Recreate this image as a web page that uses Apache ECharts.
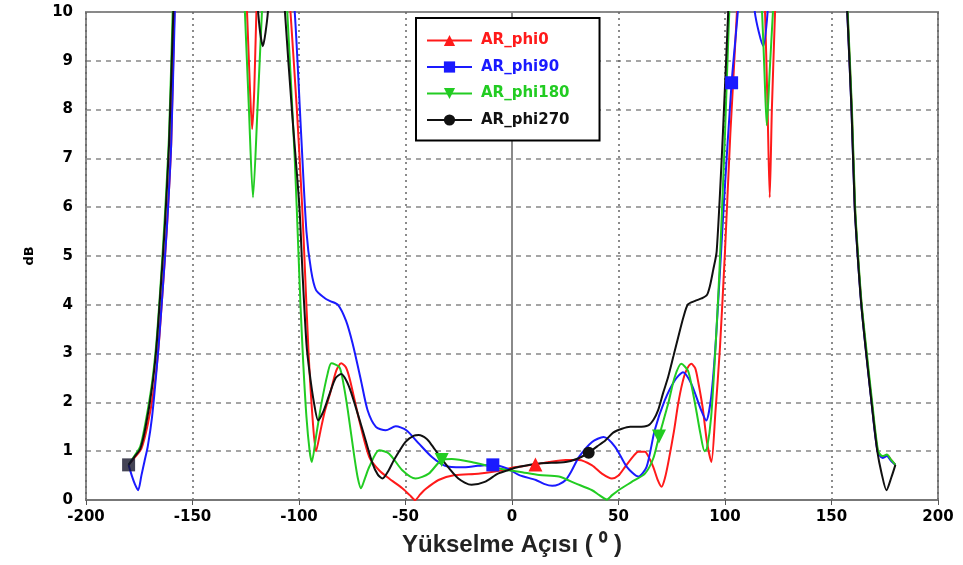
<!DOCTYPE html>
<html>
<head>
<meta charset="utf-8">
<title>AR</title>
<script src="https://cdn.jsdelivr.net/npm/echarts/dist/echarts.min.js"></script>
<style>
  html, body { margin: 0; padding: 0; background: #fff; }
  #chart { width: 963px; height: 565px; }
</style>
</head>
<body>
<div id="chart"></div>
<script>
// angle (deg), axial ratio (dB) - values above 10 run off the top of the plot
const arPhi0 = [
  [-180,0.72],[-177,0.88],[-174,1.05],[-171,1.55],[-168,2.3],[-166,3.1],[-164,4.3],[-162,5.6],[-160,7.3],[-158.5,10],[-156,13],[-145,16],[-132,15],
  [-126,11.5],[-124.4,10],[-123,8.4],[-122,7.6],[-121,8.4],[-120,10],[-118,12],[-112,14],[-107,12],[-104,10],[-101,8],[-98.5,6],[-97.2,4.7],
  [-95.5,3],[-93.5,1.6],[-92,1.0],[-90,1.4],[-88,1.8],[-85.6,2.15],[-82.5,2.65],[-80.2,2.8],[-78,2.72],[-76,2.45],[-71.7,1.63],[-67,0.88],
  [-62.4,0.61],[-57.7,0.44],[-51.5,0.24],[-48,0.1],[-45.5,0],[-43,0.12],[-40.7,0.22],[-34.5,0.41],[-26.8,0.51],[-15.9,0.54],[-6,0.6],[0,0.66],
  [5,0.69],[11,0.73],[17.4,0.78],[25.2,0.82],[31.4,0.82],[37.6,0.71],[42.2,0.54],[46.9,0.44],[50,0.5],[53.1,0.68],[57,0.9],[59.3,0.99],
  [62.4,0.99],[64.5,0.85],[66.3,0.68],[68.5,0.4],[70.2,0.27],[71.8,0.45],[73.3,0.75],[76,1.4],[78,1.97],[80,2.4],[81.8,2.65],[84.2,2.79],
  [86,2.7],[87.3,2.45],[89.5,1.9],[91.5,1.2],[93.6,0.78],[95.5,1.8],[97.6,3.1],[100,5.1],[102.5,7.5],[105.6,10],[108,12.5],[114,14],
  [117.5,11.5],[118.8,10],[120,8],[121,6.2],[122,8],[123.5,10],[125,12],[135,15],[150,15],[155.5,12],[157.5,10],[159.5,8],[161,6],
  [162.4,5],[164.1,4],[166.4,3],[168.9,2],[171.7,1],[174,0.88],[176,0.92],[178,0.82],[180,0.72]
];
const arPhi90 = [
  [-180,0.72],[-178.5,0.5],[-177,0.32],[-175.5,0.2],[-174,0.5],[-172.5,0.8],[-171,1.1],[-169,1.7],[-167,2.6],[-165.5,3.4],[-164,4.3],[-162,5.6],
  [-160,7.3],[-158.3,10],[-156,13],[-145,16],[-130,15],[-118,11.5],[-112,13],[-106,12],[-102,10],[-99,7.5],[-96.5,5.5],[-94.3,4.7],[-92,4.3],
  [-88,4.14],[-85.6,4.08],[-81.7,4.0],[-77.9,3.67],[-74.8,3.2],[-70.9,2.45],[-67.8,1.84],[-63.9,1.5],[-59.3,1.43],[-54.6,1.51],[-49.6,1.43],
  [-43.8,1.16],[-37.6,0.88],[-31.4,0.7],[-23.7,0.67],[-16,0.7],[-9,0.72],[-2,0.64],[3.4,0.51],[11.2,0.41],[15,0.33],[18.9,0.29],[22,0.32],
  [25.2,0.41],[28,0.6],[31.4,0.88],[37.6,1.19],[43,1.29],[48.4,1.09],[53.9,0.68],[59.3,0.48],[63.2,0.68],[67,1.43],[71.7,2.04],[76.4,2.45],
  [80.3,2.62],[84.2,2.38],[88.8,1.84],[91.2,1.63],[93.5,2.11],[95.8,3.33],[99.5,6.1],[103.1,8.55],[106,10],[109,12],[112,11.5],[114,10],
  [118,9.3],[120,10],[122,11.5],[135,15],[150,15],[155.5,12],[157.4,10],[159.4,8],[160.9,6],[162.3,5],[164,4],[166.3,3],[168.8,2],
  [171.6,1],[174,0.86],[176,0.9],[178,0.8],[180,0.72]
];
const arPhi180 = [
  [-180,0.72],[-177,0.92],[-174.5,1.1],[-172,1.6],[-169,2.4],[-167,3.2],[-165,4.4],[-163,5.8],[-161,7.5],[-159.3,10],[-157,13],[-145,16],[-133,14],
  [-127,11.5],[-125.4,10],[-123.5,8],[-121.6,6.2],[-119.5,8],[-117.4,10],[-115,12],[-110,13],[-107,11],[-105.5,10],[-102,7],[-100.2,5],[-99.3,4],
  [-98,2.8],[-96.5,1.7],[-95,1.0],[-94,0.78],[-92,1.3],[-89.5,1.97],[-86.5,2.6],[-84.8,2.8],[-81,2.72],[-79,2.35],[-77.1,1.84],[-74,0.88],
  [-72.4,0.45],[-70.9,0.24],[-69,0.45],[-67,0.68],[-62.4,1.02],[-57.7,0.95],[-51.5,0.61],[-45.3,0.44],[-39.1,0.54],[-33,0.82],[-28.3,0.84],
  [-19,0.78],[-9.7,0.68],[-2,0.61],[3.4,0.58],[12.7,0.51],[22,0.48],[29.8,0.34],[37.6,0.2],[41,0.1],[44.6,0.01],[47,0.1],[50,0.2],[56.2,0.37],
  [62.4,0.54],[66.3,0.85],[69,1.3],[73.3,1.97],[76.4,2.52],[79.5,2.79],[82.6,2.65],[84.5,2.3],[86.5,1.84],[88.5,1.35],[90.4,1.0],[91.5,1.05],
  [93.5,1.7],[95.8,3.33],[97.4,4.7],[100,7.5],[102,10],[105,12.5],[112,13],[116,11],[117.4,10],[118.5,8.8],[119.6,7.68],[121,8.8],[122.5,10],
  [125,12],[135,15],[150,15],[155.5,12],[157.6,10],[159.6,8],[161.1,6],[162.5,5],[164.2,4],[166.6,3],[169.1,2],[171.9,1],[174,0.9],[176,0.93],
  [178,0.82],[180,0.72]
];
const arPhi270 = [
  [-180,0.72],[-177,0.9],[-174.5,1.05],[-172,1.5],[-169,2.3],[-167,3.1],[-165,4.3],[-163,5.6],[-161,7.3],[-159,10],[-156.5,13],[-145,16],[-130,14],
  [-122,12],[-119.2,10],[-117,9.3],[-114.6,10],[-112,12],[-109,12],[-106.6,10],[-103,7.8],[-99.8,6],[-98.4,4.7],[-96.5,3.2],[-95,2.6],[-93,2],
  [-91,1.63],[-88.5,1.82],[-85.6,2.18],[-82.8,2.5],[-80.2,2.58],[-77.8,2.45],[-75.5,2.2],[-70.1,1.43],[-65.5,0.75],[-63,0.52],[-60.8,0.44],
  [-58,0.6],[-55.4,0.82],[-50,1.19],[-46,1.32],[-43.8,1.33],[-40,1.25],[-37.6,1.12],[-31.4,0.75],[-25.2,0.44],[-19,0.31],[-12.8,0.37],
  [-6.6,0.54],[-2,0.61],[3.4,0.68],[12.7,0.75],[25.2,0.78],[31,0.85],[36,0.97],[40,1.1],[43.8,1.22],[47.5,1.38],[51.6,1.46],[55.5,1.5],
  [59.3,1.5],[64,1.53],[66.5,1.65],[68.6,1.84],[71,2.2],[73.3,2.52],[75.8,2.95],[78,3.33],[80.5,3.75],[82.6,4.01],[86,4.08],[89,4.13],
  [91.5,4.2],[93,4.4],[94.4,4.7],[96.1,5.1],[99,7.5],[101.5,10],[104,12.5],[115,14],[135,15],[150,15],[155.3,12],[157.4,10],[159.4,8],
  [160.9,6],[162.3,5],[164,4],[166.3,3],[168.8,2],[171.5,1],[173.5,0.55],[175.8,0.2],[178,0.45],[180,0.72]
];

// angles where each curve carries a marker
const marksPhi0 = [11];
const marksPhi90 = [-9, 103.1];
const marksPhi180 = [-33, 69];
const marksPhi270 = [36];
const darkSquare = [[-180, 0.72]];

const seriesNames = ['AR_phi0', 'AR_phi90', 'AR_phi180', 'AR_phi270'];
const seriesColors = ['#ff1a1a', '#1a1aff', '#22cc22', '#111111'];

const downTriangle = 'path://M0,0 L10,0 L5,9 Z';

function makeLine(name, data, color, symbol, size, marks) {
  return {
    name: name,
    type: 'line',
    data: data,
    smooth: 0.25,
    clip: true,
    showSymbol: true,
    showAllSymbol: true,
    symbol: symbol,
    symbolSize: function (val) { return marks.indexOf(val[0]) > -1 ? size : 0; },
    lineStyle: { color: color, width: 2 },
    itemStyle: { color: color },
    emphasis: { disabled: true }
  };
}

const option = {
  backgroundColor: '#ffffff',
  animation: false,
  grid: {
    left: 86, right: 25, top: 12, bottom: 65,
    show: true, borderColor: '#8a8a8a', borderWidth: 2
  },
  legend: {
    orient: 'vertical',
    left: 416, top: 18,
    padding: [15, 30, 13, 10],
    itemWidth: 45, itemHeight: 14, itemGap: 11.5,
    backgroundColor: '#ffffff',
    borderColor: '#000', borderWidth: 2,
    data: seriesNames.map(function (n, i) {
      return { name: n, textStyle: { color: seriesColors[i] } };
    }),
    textStyle: { fontFamily: 'DejaVu Sans', fontWeight: 'bold', fontSize: 15, padding: [0, 0, 0, 4] }
  },
  xAxis: {
    type: 'value',
    min: -200, max: 200, interval: 50,
    name: 'Yükselme Açısı ( ⁰ )',
    nameLocation: 'middle',
    nameGap: 33,
    nameTextStyle: { fontFamily: 'Liberation Sans', fontSize: 24, fontWeight: 'bold', color: '#222' },
    axisLine: { show: true, lineStyle: { color: '#777', width: 2 } },
    axisTick: { show: true, length: 5, lineStyle: { color: '#555' } },
    axisLabel: { fontFamily: 'DejaVu Sans', fontWeight: 'bold', fontSize: 15, color: '#000', margin: 10 },
    splitLine: { show: true, lineStyle: { color: '#666', type: [2, 4], width: 1.5 } }
  },
  yAxis: {
    type: 'value',
    min: 0, max: 10, interval: 1,
    name: 'dB',
    nameLocation: 'middle',
    nameRotate: 90,
    nameGap: 50,
    nameTextStyle: { fontFamily: 'DejaVu Sans', fontSize: 13, fontWeight: 'bold', color: '#000' },
    axisLine: { show: true, lineStyle: { color: '#8a8a8a', width: 2 } },
    axisTick: { show: false },
    axisLabel: { fontFamily: 'DejaVu Sans', fontWeight: 'bold', fontSize: 15, color: '#000', margin: 13 },
    splitLine: { show: true, lineStyle: { color: '#888', type: [5, 5], width: 1.5 } }
  },
  series: [
    makeLine(seriesNames[0], arPhi0, seriesColors[0], 'triangle', 14, marksPhi0),
    makeLine(seriesNames[1], arPhi90, seriesColors[1], 'rect', 13, marksPhi90),
    makeLine(seriesNames[2], arPhi180, seriesColors[2], downTriangle, 14, marksPhi180),
    makeLine(seriesNames[3], arPhi270, seriesColors[3], 'circle', 12, marksPhi270),
    {
      // dark square where all curves start at -180
      type: 'scatter',
      data: darkSquare,
      symbol: 'rect',
      symbolSize: 13,
      itemStyle: { color: '#15152a' },
      z: 5
    }
  ]
};

const myChart = echarts.init(document.getElementById('chart'));
myChart.setOption(option);
</script>
</body>
</html>
